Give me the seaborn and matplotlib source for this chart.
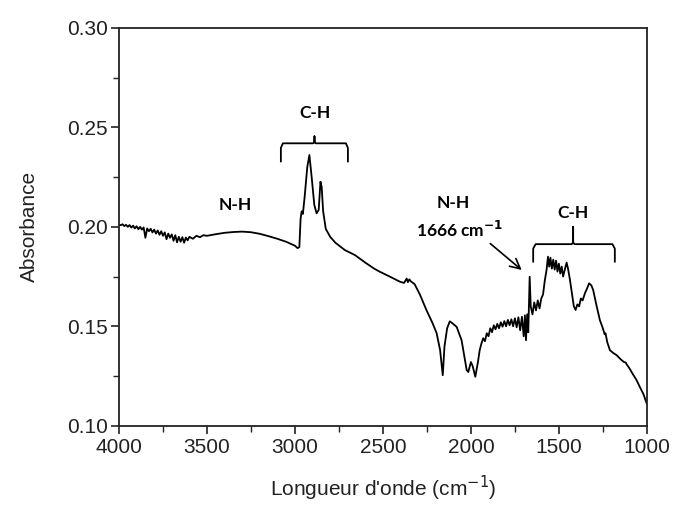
import matplotlib
matplotlib.use("Agg")
import matplotlib.pyplot as plt
import seaborn as sns
import pandas as pd
from matplotlib.ticker import MultipleLocator

# Wavenumber (cm-1) and absorbance
wavenumber = [
    4000, 3990, 3980, 3970, 3960, 3950, 3940, 3930, 3920, 3910, 3900, 3890, 3880, 3870,
    3860, 3850, 3840, 3830, 3820, 3810, 3800, 3790, 3780, 3770, 3760, 3750, 3740, 3730,
    3720, 3710, 3700, 3690, 3680, 3670, 3660, 3650, 3640, 3630, 3620, 3610, 3600, 3580,
    3560, 3540, 3520, 3500, 3450, 3400, 3350, 3300, 3250, 3200, 3150, 3100, 3050, 3000,
    2985, 2975, 2968, 2962, 2955, 2945, 2930, 2918, 2905, 2890, 2877, 2865, 2855, 2848,
    2840, 2825, 2800, 2770, 2716, 2659, 2600, 2550, 2517, 2450, 2403, 2380, 2365, 2358,
    2350, 2340, 2320, 2290, 2252, 2220, 2195, 2175, 2160, 2150, 2135, 2120, 2105, 2081,
    2053, 2024, 2015, 2000, 1990, 1975, 1960, 1950, 1940, 1930, 1920, 1910, 1900, 1890,
    1880, 1870, 1860, 1850, 1840, 1830, 1820, 1810, 1800, 1790, 1780, 1770, 1760, 1750,
    1740, 1730, 1720, 1710, 1700, 1693, 1687, 1680, 1674, 1666, 1660, 1650, 1640, 1630,
    1620, 1610, 1600, 1590, 1580, 1570, 1562, 1555, 1548, 1540, 1532, 1524, 1516, 1508,
    1500, 1492, 1484, 1476, 1465, 1456, 1448, 1437, 1425, 1415, 1405, 1395, 1385, 1375,
    1365, 1352, 1340, 1328, 1315, 1305, 1285, 1267, 1250, 1240, 1235, 1225, 1210, 1190,
    1172, 1150, 1130, 1120, 1116, 1100, 1080, 1059, 1040, 1020, 1000,
]
absorbance = [
    0.2012, 0.2008, 0.2013, 0.2004, 0.2010, 0.2000, 0.2009, 0.1996, 0.2006, 0.1992, 0.2003, 0.1988, 0.2000, 0.1986,
    0.1997, 0.1945, 0.1992, 0.1978, 0.1990, 0.1972, 0.1986, 0.1966, 0.1982, 0.1960, 0.1978, 0.1955, 0.1972, 0.1938,
    0.1966, 0.1945, 0.1962, 0.1930, 0.1958, 0.1922, 0.1950, 0.1925, 0.1948, 0.1920, 0.1946, 0.1932, 0.1950, 0.1940,
    0.1955, 0.1948, 0.1958, 0.1955, 0.1963, 0.1970, 0.1974, 0.1976, 0.1973, 0.1965, 0.1953, 0.1940, 0.1925, 0.1905,
    0.1893, 0.1898, 0.2040, 0.2078, 0.2065, 0.2150, 0.2300, 0.2361, 0.2250, 0.2110, 0.2068, 0.2085, 0.2227, 0.2200,
    0.2080, 0.1990, 0.1950, 0.1920, 0.1883, 0.1858, 0.1820, 0.1790, 0.1774, 0.1745, 0.1724, 0.1718, 0.1740, 0.1722,
    0.1736, 0.1725, 0.1712, 0.1660, 0.1580, 0.1520, 0.1466, 0.1380, 0.1254, 0.1400, 0.1490, 0.1525, 0.1515, 0.1497,
    0.1430, 0.1280, 0.1270, 0.1320, 0.1300, 0.1246, 0.1320, 0.1380, 0.1414, 0.1440, 0.1425, 0.1465, 0.1450, 0.1490,
    0.1470, 0.1505, 0.1485, 0.1512, 0.1490, 0.1520, 0.1498, 0.1526, 0.1500, 0.1532, 0.1505, 0.1535, 0.1500, 0.1540,
    0.1495, 0.1545, 0.1480, 0.1548, 0.1450, 0.1555, 0.1430, 0.1560, 0.1470, 0.1749, 0.1600, 0.1560, 0.1620, 0.1580,
    0.1630, 0.1590, 0.1640, 0.1660, 0.1730, 0.1783, 0.1850, 0.1800, 0.1845, 0.1790, 0.1835, 0.1785, 0.1830, 0.1775,
    0.1815, 0.1765, 0.1800, 0.1750, 0.1790, 0.1820, 0.1790, 0.1733, 0.1660, 0.1600, 0.1582, 0.1610, 0.1600, 0.1640,
    0.1630, 0.1666, 0.1690, 0.1716, 0.1705, 0.1682, 0.1600, 0.1531, 0.1490, 0.1460, 0.1465, 0.1420, 0.1380, 0.1365,
    0.1355, 0.1335, 0.1320, 0.1318, 0.1310, 0.1290, 0.1260, 0.1230, 0.1195, 0.1160, 0.1110,
]

x_ticks = [4000, 3500, 3000, 2500, 2000, 1500, 1000]
y_ticks = [0.10, 0.15, 0.20, 0.25, 0.30]

df = pd.DataFrame({"wn": wavenumber, "A": absorbance})

sns.set_style("ticks")
plt.rcParams["font.family"] = ["Liberation Sans", "DejaVu Sans"]

fig = plt.figure(figsize=(6.75, 5.05), dpi=100)
ax = fig.add_axes([0.1763, 0.157, 0.782, 0.7876])

sns.lineplot(data=df, x="wn", y="A", ax=ax, color="black", linewidth=1.3,
             estimator=None, sort=False)

ax.set_xlim(4000, 1000)
ax.set_ylim(0.10, 0.30)
ax.set_xticks(x_ticks)
ax.set_xticklabels([str(v) for v in x_ticks])
ax.set_yticks(y_ticks)
ax.set_yticklabels([f"{v:.2f}" for v in y_ticks])
ax.xaxis.set_minor_locator(MultipleLocator(250))
ax.yaxis.set_minor_locator(MultipleLocator(0.025))

for s in ax.spines.values():
    s.set_visible(True)
    s.set_color("#222222")
    s.set_linewidth(1.3)

ax.tick_params(axis="both", which="major", direction="out", length=6, width=1.2,
               labelsize=15, colors="#222222", pad=2)
ax.tick_params(axis="both", which="minor", direction="out", length=4, width=1.0,
               colors="#222222")
ax.tick_params(axis="x", which="major", pad=3)

ax.set_xlabel("Longueur d'onde (cm$^{-1}$)", fontsize=15, color="#222222", labelpad=12)
ax.set_ylabel("Absorbance", fontsize=15, color="#222222", labelpad=20)

# Annotations
fnt = dict(family=["Lato", "DejaVu Sans"], fontweight="bold", fontsize=12.5, color="black")
ax.text(3341, 0.2110, "N-H", ha="center", va="center", **fnt)
ax.text(2886, 0.2572, "C-H", ha="center", va="center", **fnt)
ax.text(2100, 0.2118, "N-H", ha="center", va="center", **fnt)
ax.text(2062, 0.1984, "1666 cm$^{\\mathbf{-1}}$", ha="center", va="center", **fnt)
ax.text(1418, 0.2068, "C-H", ha="center", va="center", **fnt)


def brace(x0, x1, xc, y_end, y_top, y_tip):
    r = (x0 - x1) * 0.03
    dy = (y_top - y_end) * 0.25
    xs = [x0, x0, x0 - r, xc + r * 0.6, xc, xc, xc, xc - r * 0.6, x1 + r, x1, x1]
    ys = [y_end, y_top - dy, y_top, y_top, y_top + 0.0008, y_tip, y_top + 0.0008, y_top, y_top, y_top - dy, y_end]
    ax.plot(xs, ys, color="black", linewidth=1.3, solid_capstyle="round")


brace(3080, 2699, 2889, 0.2328, 0.2420, 0.2455)
brace(1646, 1182, 1419, 0.1824, 0.1913, 0.2000)

ax.annotate("", xy=(1699, 0.1774), xytext=(1902, 0.1925),
            arrowprops=dict(arrowstyle="->", color="black", lw=1.2, mutation_scale=18))

fig.savefig("out.png", dpi=100)
